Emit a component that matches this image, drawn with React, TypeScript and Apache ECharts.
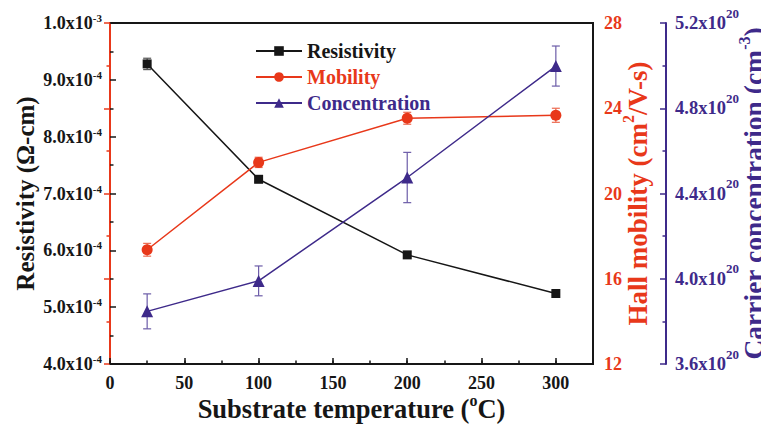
import React, { useEffect, useRef } from "react";
import * as echarts from "echarts";

// Substrate temperature (°C)
const temps = [25, 100, 200, 300];
// Resistivity in units of 1e-4 Ω-cm
const resistivity = [9.28, 7.25, 5.92, 5.24];
const resistivityErr = [0.1, 0.05, 0.05, 0.03];
// Hall mobility (cm^2/V-s)
const mobility = [17.36, 21.46, 23.53, 23.67];
const mobilityErr = [0.3, 0.24, 0.28, 0.33];
// Carrier concentration in units of 1e19 cm^-3
const concentration = [38.47, 39.9, 44.75, 49.98];
const concentrationErr = [0.82, 0.7, 1.18, 0.94];

const seriesNames = ["Resistivity", "Mobility", "Concentration"];

const BLACK = "#161616";
const RED = "#e8381a";
const PURPLE = "#3e2a8a";
const FONT = "'Liberation Serif', 'Times New Roman', serif";

function errorSeries(
  values: number[],
  errs: number[],
  yAxisIndex: number,
  color: string
) {
  return {
    type: "custom",
    yAxisIndex,
    silent: true,
    z: 1,
    data: temps.map((t, i) => [t, values[i] - errs[i], values[i] + errs[i]]),
    encode: { x: 0, y: [1, 2] },
    renderItem: (_params: any, api: any) => {
      const x = api.value(0);
      const lo = api.value(1);
      const hi = api.value(2);
      const p1 = api.coord([x, hi]);
      const p2 = api.coord([x, lo]);
      const w = 4;
      const style = { stroke: color, lineWidth: 1.2 };
      return {
        type: "group",
        children: [
          { type: "line", shape: { x1: p1[0], y1: p1[1], x2: p2[0], y2: p2[1] }, style },
          { type: "line", shape: { x1: p1[0] - w, y1: p1[1], x2: p1[0] + w, y2: p1[1] }, style },
          { type: "line", shape: { x1: p2[0] - w, y1: p2[1], x2: p2[0] + w, y2: p2[1] }, style },
        ],
      };
    },
  };
}

function supRich(color: string, base: number, sup: number, lh: number) {
  return {
    b: { fontFamily: FONT, fontWeight: "bold", fontSize: base, color, lineHeight: lh, verticalAlign: "middle" },
    s: { fontFamily: FONT, fontWeight: "bold", fontSize: sup, color, lineHeight: sup, verticalAlign: "top" },
  };
}

export default function App() {
  const ref = useRef<HTMLDivElement>(null);

  useEffect(() => {
    document.body.style.margin = "0";
    if (!ref.current) return;
    const chart = echarts.init(ref.current, null, { renderer: "svg" });

    const axisCommon = (color: string) => ({
      axisLine: { show: true, lineStyle: { color, width: 2 } },
      axisTick: { show: true, inside: true, length: 6, lineStyle: { color, width: 1.5 } },
      minorTick: { show: true, splitNumber: 2, length: 3.5, lineStyle: { color, width: 1.5 } },
      splitLine: { show: false },
      minorSplitLine: { show: false },
      nameMoveOverlap: false,
    });

    const option: any = {
      animation: false,
      backgroundColor: "#ffffff",
      grid: {
        left: 110,
        right: 168,
        top: 23,
        bottom: 65,
        show: true,
        borderColor: BLACK,
        borderWidth: 2,
        backgroundColor: "transparent",
        outerBoundsMode: "none",
        containLabel: false,
      },
      legend: {
        orient: "vertical",
        left: 250,
        top: 36,
        itemWidth: 46,
        itemHeight: 12,
        itemGap: 6,
        textStyle: { fontFamily: FONT, fontWeight: "bold", fontSize: 20 },
        data: [
          { name: seriesNames[0], textStyle: { color: BLACK } },
          { name: seriesNames[1], textStyle: { color: RED } },
          { name: seriesNames[2], textStyle: { color: PURPLE } },
        ],
      },
      xAxis: [
        {
          type: "value",
          position: "bottom",
          min: 0,
          max: 325,
          interval: 25,
          ...axisCommon(BLACK),
          axisTick: { show: true, inside: true, length: 3.5, lineStyle: { color: BLACK, width: 1.5 } },
          minorTick: { show: false },
          axisLabel: {
            margin: 10,
            fontFamily: FONT,
            fontWeight: "bold",
            fontSize: 18,
            color: BLACK,
            formatter: (v: number) => (v % 50 === 0 && v <= 300 ? String(v) : ""),
          },
          name: "{b|Substrate temperature (}{s|o}{b|C)}",
          nameLocation: "middle",
          nameGap: 28,
          nameTextStyle: { rich: supRich(BLACK, 26.5, 16, 33) },
        },
        {
          type: "value",
          position: "bottom",
          min: 0,
          max: 325,
          interval: 50,
          axisLine: { show: false },
          axisTick: { show: true, inside: true, length: 6, lineStyle: { color: BLACK, width: 1.5 } },
          axisLabel: { show: false },
          splitLine: { show: false },
        },
      ],
      yAxis: [
        {
          type: "value",
          position: "left",
          min: 4,
          max: 10,
          interval: 1,
          ...axisCommon(BLACK),
          axisLabel: {
            margin: 8,
            formatter: (v: number) =>
              Math.abs(v - 10) < 1e-9
                ? "{b|1.0x10}{s|-3}"
                : `{b|${v.toFixed(1)}x10}{s|-4}`,
            rich: supRich(BLACK, 18, 11, 21),
          },
          name: "{b|Resistivity (Ω-cm)}",
          nameLocation: "middle",
          nameRotate: 90,
          nameGap: 71,
          nameTextStyle: { rich: supRich(BLACK, 25, 15, 28) },
        },
        {
          type: "value",
          position: "right",
          min: 12,
          max: 28,
          interval: 4,
          ...axisCommon(RED),
          axisLabel: {
            margin: 11,
            fontFamily: FONT,
            fontWeight: "bold",
            fontSize: 18,
            color: RED,
          },
          name: "{b|Hall mobility (cm}{s|2}{b|/V-s)}",
          nameLocation: "middle",
          nameRotate: 90,
          nameGap: 27,
          nameTextStyle: { rich: supRich(RED, 27, 16, 35) },
        },
        {
          type: "value",
          position: "right",
          offset: 73,
          min: 36,
          max: 52,
          interval: 4,
          ...axisCommon(PURPLE),
          axisLabel: {
            margin: 9,
            formatter: (v: number) => `{b|${(v / 10).toFixed(1)}x10}{s|20}`,
            rich: supRich(PURPLE, 18.5, 13, 33),
          },
          name: "{b|Carrier concentration (cm}{s|-3}{b|)}",
          nameLocation: "middle",
          nameRotate: 90,
          nameGap: 70,
          nameTextStyle: { rich: supRich(PURPLE, 27.5, 16, 35) },
        },
      ],
      series: [
        errorSeries(resistivity, resistivityErr, 0, "#555555"),
        errorSeries(mobility, mobilityErr, 1, "#ec6a50"),
        errorSeries(concentration, concentrationErr, 2, "#6c5ca8"),
        {
          name: seriesNames[0],
          type: "line",
          yAxisIndex: 0,
          data: temps.map((t, i) => [t, resistivity[i]]),
          symbol: "rect",
          symbolSize: 9,
          lineStyle: { color: BLACK, width: 1.5 },
          itemStyle: { color: BLACK },
          z: 3,
        },
        {
          name: seriesNames[1],
          type: "line",
          yAxisIndex: 1,
          data: temps.map((t, i) => [t, mobility[i]]),
          symbol: "circle",
          symbolSize: 11,
          lineStyle: { color: RED, width: 1.5 },
          itemStyle: { color: RED },
          z: 3,
        },
        {
          name: seriesNames[2],
          type: "line",
          yAxisIndex: 2,
          data: temps.map((t, i) => [t, concentration[i]]),
          symbol: "triangle",
          symbolSize: 12,
          lineStyle: { color: PURPLE, width: 1.5 },
          itemStyle: { color: PURPLE },
          z: 3,
        },
      ],
    };

    chart.setOption(option);
    return () => chart.dispose();
  }, []);

  return (
    <div
      ref={ref}
      style={{ position: "fixed", left: 0, top: 0, width: 761, height: 429, background: "#fff" }}
    />
  );
}
